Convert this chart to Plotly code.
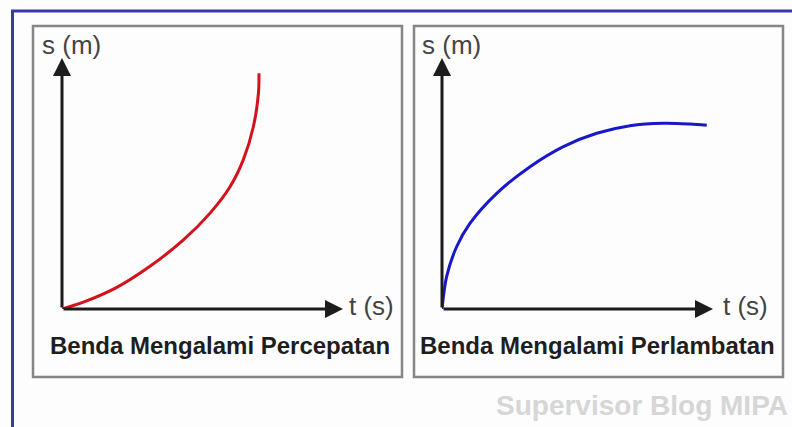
import plotly.graph_objects as go

W, H = 792, 427

# Data (t in s, s in m; arbitrary units 0..10 on each axis)
t_accel = [0, 0.76, 1.95, 3.13, 4.32, 5.27, 5.98, 6.45, 6.81, 6.99, 7.01]
s_accel = [0, 0.27, 0.86, 1.70, 2.75, 3.82, 4.87, 5.94, 7.26, 8.59, 9.39]

t_decel = [0, 0.17, 0.54, 1.03, 2.02, 3.25, 4.48, 5.71, 6.94, 8.17, 9.15, 9.77]
s_decel = [0, 1.29, 2.48, 3.41, 4.61, 5.67, 6.47, 7.00, 7.30, 7.40, 7.37, 7.32]

axis_max = 10
titles = ["Benda Mengalami Percepatan", "Benda Mengalami Perlambatan"]
y_label = "s (m)"
x_label = "t (s)"
watermark = "Supervisor Blog MIPA"


def px(x):
    return x / W


def py(y):
    return 1 - y / H


fig = go.Figure()

fig.add_trace(go.Scatter(x=t_accel, y=s_accel, mode="lines",
                         line=dict(color="#d3121c", width=3, shape="spline", smoothing=1.0),
                         xaxis="x", yaxis="y", hoverinfo="skip"))
fig.add_trace(go.Scatter(x=t_decel, y=s_decel, mode="lines",
                         line=dict(color="#1818c8", width=3, shape="spline", smoothing=0.9),
                         xaxis="x2", yaxis="y2", hoverinfo="skip"))

ax_common = dict(visible=False, range=[0, axis_max], fixedrange=True)
fig.update_layout(
    width=W, height=H,
    margin=dict(l=0, r=0, t=0, b=0),
    paper_bgcolor="#fdfdfd", plot_bgcolor="rgba(0,0,0,0)",
    showlegend=False,
    xaxis=dict(domain=[px(62), px(343)], **ax_common),
    yaxis=dict(domain=[py(309), py(58)], **ax_common),
    xaxis2=dict(domain=[px(442), px(713)], anchor="y2", **ax_common),
    yaxis2=dict(domain=[py(309), py(58)], anchor="x2", **ax_common),
    font=dict(family="Liberation Sans, Arial, sans-serif"),
)

shapes = []
# blue outer frame (left and top)
shapes.append(dict(type="line", xref="paper", yref="paper",
                   x0=px(12.5), x1=px(12.5), y0=py(11), y1=py(430),
                   line=dict(color="#3a3aa6", width=3)))
shapes.append(dict(type="line", xref="paper", yref="paper",
                   x0=px(11), x1=px(800), y0=py(11), y1=py(11),
                   line=dict(color="#3a3aa6", width=3)))
# panel frames
for x0, x1 in [(33, 402), (414, 783)]:
    shapes.append(dict(type="rect", xref="paper", yref="paper",
                       x0=px(x0), x1=px(x1), y0=py(377), y1=py(26),
                       line=dict(color="#858585", width=2.5)))
fig.update_layout(shapes=shapes)

annotations = []
# axis arrows
for xr, yr in [("x", "y"), ("x2", "y2")]:
    annotations.append(dict(x=axis_max, y=0, ax=0, ay=0, xref=xr, yref=yr,
                            axref=xr, ayref=yr, showarrow=True, text="",
                            arrowhead=2, arrowsize=1.2, arrowwidth=3,
                            arrowcolor="#1c1c1c", standoff=0))
    annotations.append(dict(x=0, y=axis_max, ax=0, ay=0, xref=xr, yref=yr,
                            axref=xr, ayref=yr, showarrow=True, text="",
                            arrowhead=2, arrowsize=1.2, arrowwidth=3,
                            arrowcolor="#1c1c1c", standoff=0))

label_font = dict(size=26, color="#444444", family="Liberation Sans, Arial, sans-serif")
for sx, tx in [(40, 347), (420, 721)]:
    annotations.append(dict(x=px(sx), y=py(45), xref="paper", yref="paper",
                            text=y_label, showarrow=False, xanchor="left",
                            yanchor="middle", font=label_font))
    annotations.append(dict(x=px(tx), y=py(306), xref="paper", yref="paper",
                            text=x_label, showarrow=False, xanchor="left",
                            yanchor="middle", font=label_font))

for cx, title in zip([219.5, 597.5], titles):
    annotations.append(dict(x=px(cx), y=py(345), xref="paper", yref="paper",
                            text="<b>" + title + "</b>", showarrow=False,
                            xanchor="center", yanchor="middle",
                            font=dict(size=24, color="#1e1e1e",
                                      family="Liberation Sans, Arial, sans-serif")))

annotations.append(dict(x=px(494), y=py(405), xref="paper", yref="paper",
                        text="<b>" + watermark + "</b>", showarrow=False,
                        xanchor="left", yanchor="middle",
                        font=dict(size=28, color="#d6d6d6",
                                  family="Liberation Sans, Arial, sans-serif")))

fig.update_layout(annotations=annotations)

fig.write_html("out.html", config={"displayModeBar": False},
               post_script="document.body.style.margin='0';document.body.style.overflow='hidden';")
